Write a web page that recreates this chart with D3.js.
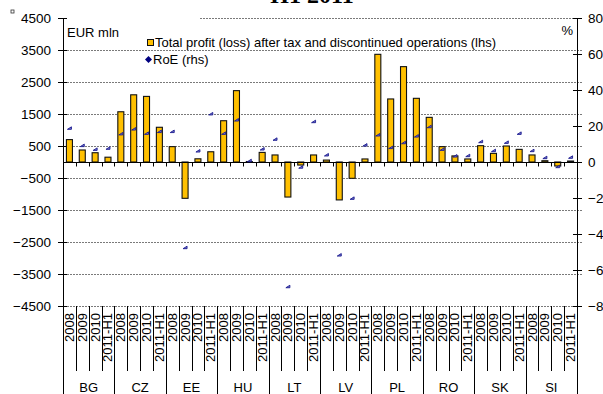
<!DOCTYPE html>
<html>
<head>
<meta charset="utf-8">
<script src="https://cdn.jsdelivr.net/npm/d3@7"></script>
<style>
  html, body { margin: 0; padding: 0; background: #fff; }
  svg { display: block; }
  text { font-family: "Liberation Sans", Arial, sans-serif; fill: #000; }
</style>
</head>
<body>
<svg id="chart" width="603" height="394"></svg>
<script>
// Country groups and reporting periods on the category axis
const countries = ["BG", "CZ", "EE", "HU", "LT", "LV", "PL", "RO", "SK", "SI"];
const periods = ["2008", "2009", "2010", "2011-H1"];

// Total profit (loss) after tax and discontinued operations, EUR mln (lhs)
const profit = [
  700, 375, 290, 150,
  1570, 2100, 2050, 1085,
  480, -1135, 100, 320,
  1290, 2230, 15, 300,
  220, -1095, -95, 220,
  60, -1185, -510, 95,
  3365, 1970, 2980, 1990,
  1395, 480, 190, 95,
  510, 270, 500, 395,
  220, 40, -125, 30
];

// Return on equity, % (rhs)
const roe = [
  18.7, 9.1, 7.0, 7.6,
  15.6, 18.3, 15.9, 16.9,
  16.9, -47.6, 6.1, 26.7,
  15.9, 23.3, 0.7, 7.2,
  12.6, -69.3, -2.9, 22.4,
  3.9, -51.7, -20.2, 9.4,
  15.0, 8.0, 10.7, 14.4,
  19.6, 7.0, 3.3, 3.5,
  11.3, 6.3, 10.9, 15.9,
  6.3, 2.4, -2.6, 2.6
];

const leftTicks = [4500, 3500, 2500, 1500, 500, -500, -1500, -2500, -3500, -4500];
const rightTicks = [80, 60, 40, 20, 0, -20, -40, -60, -80];

const rows = [];
countries.forEach((c, gi) => periods.forEach((p, pi) => {
  const i = gi * periods.length + pi;
  rows.push({ key: c + " " + p, country: c, period: p, profit: profit[i], roe: roe[i] });
}));

const svg = d3.select("#chart");
const W = 603, H = 394;
const plotL = 63, plotR = 577, plotT = 18, plotB = 306;

const x = d3.scaleBand().domain(rows.map(d => d.key)).range([plotL, plotR]).padding(0);
const yL = d3.scaleLinear().domain([-4500, 4500]).range([plotB, plotT]);
const yR = d3.scaleLinear().domain([-80, 80]).range([plotB, plotT]);

// Title (sits mostly above the visible area)
svg.append("text")
  .attr("x", 312).attr("y", 3)
  .attr("text-anchor", "middle")
  .style("font-family", "'Liberation Serif', 'Times New Roman', serif")
  .style("font-weight", "bold")
  .style("font-size", "24px")
  .text("H1 2011");

// Small marker in the top-left corner
svg.append("rect").attr("x", 11).attr("y", 10).attr("width", 3).attr("height", 3)
  .attr("fill", "#fff").attr("stroke", "#333").attr("stroke-width", 0.8);

// Horizontal gridlines
const grid = svg.append("g");
grid.selectAll("line").data(leftTicks).join("line")
  .attr("x1", d => d === 4500 ? 200 : plotL - 5)
  .attr("x2", plotR + 5)
  .attr("y1", d => Math.round(yL(d)) + 0.5)
  .attr("y2", d => Math.round(yL(d)) + 0.5)
  .attr("stroke", "#7a7a7a")
  .attr("stroke-width", 1)
  .attr("stroke-dasharray", "2,1");

// Left axis labels
const axL = svg.append("g").attr("transform", `translate(${plotL},0)`)
  .call(d3.axisLeft(yL).tickValues(leftTicks).tickSize(0).tickPadding(12).tickFormat(d3.format("d")));
axL.select(".domain").remove();
axL.selectAll("text").style("font-size", "13.5px").style("font-family", "'Liberation Sans', Arial, sans-serif");

// Right axis labels
const axR = svg.append("g").attr("transform", `translate(${plotR},0)`)
  .call(d3.axisRight(yR).tickValues(rightTicks).tickSize(0).tickPadding(11).tickFormat(d3.format("d")));
axR.select(".domain").remove();
axR.selectAll("text").style("font-size", "13.5px").style("font-family", "'Liberation Sans', Arial, sans-serif");

// Right-axis tick marks
svg.append("g").selectAll("line").data(rightTicks).join("line")
  .attr("x1", plotR - 4).attr("x2", plotR + 5)
  .attr("y1", d => Math.round(yR(d)) + 0.5).attr("y2", d => Math.round(yR(d)) + 0.5)
  .attr("stroke", "#000");
// Left-axis tick marks
svg.append("g").selectAll("line").data(leftTicks).join("line")
  .attr("x1", plotL - 5).attr("x2", plotL + 4)
  .attr("y1", d => Math.round(yL(d)) + 0.5).attr("y2", d => Math.round(yL(d)) + 0.5)
  .attr("stroke", "#000");

// Unit labels
svg.append("text").attr("x", 67).attr("y", 37).style("font-size", "13px").text("EUR mln");
svg.append("text").attr("x", 573).attr("y", 35).attr("text-anchor", "end").style("font-size", "13px").text("%");

// Bars
const bw = 6;
svg.append("g").selectAll("rect").data(rows).join("rect")
  .attr("x", d => x(d.key) + x.bandwidth() / 2 - bw / 2)
  .attr("width", bw)
  .attr("y", d => yL(Math.max(0, d.profit)))
  .attr("height", d => Math.abs(yL(d.profit) - yL(0)))
  .attr("fill", "#FFC000")
  .attr("stroke", "#111")
  .attr("stroke-width", 1.1);

// Zero line of the category axis with boundary ticks
const y0 = Math.round(yL(0)) + 0.5;
svg.append("line").attr("x1", plotL).attr("x2", plotR).attr("y1", y0).attr("y2", y0)
  .attr("stroke", "#000").attr("stroke-width", 1);
svg.append("g").selectAll("line").data(rows.slice(1)).join("line")
  .attr("x1", d => Math.round(x(d.key)) + 0.5).attr("x2", d => Math.round(x(d.key)) + 0.5)
  .attr("y1", y0).attr("y2", y0 + 4)
  .attr("stroke", "#000");

// RoE markers (small wedge glyphs)
svg.append("g").selectAll("path").data(rows).join("path")
  .attr("transform", d => `translate(${x(d.key) + x.bandwidth() / 2},${yR(d.roe)})`)
  .attr("d", "M-2,1 L2,1 L2,-1.5 Z")
  .attr("fill", "#7a7ac8")
  .attr("stroke", "#1a1a90")
  .attr("stroke-width", 0.9)
  .attr("stroke-linejoin", "round");

// Vertical axis lines
svg.append("line").attr("x1", plotL + 0.5).attr("x2", plotL + 0.5).attr("y1", plotT).attr("y2", H)
  .attr("stroke", "#000");
svg.append("line").attr("x1", plotR + 0.5).attr("x2", plotR + 0.5).attr("y1", plotT).attr("y2", H)
  .attr("stroke", "#000");

// Category separators below the plot
svg.append("g").selectAll("line").data(rows.slice(1)).join("line")
  .attr("x1", d => Math.round(x(d.key)) + 0.5).attr("x2", d => Math.round(x(d.key)) + 0.5)
  .attr("y1", plotB)
  .attr("y2", d => d.period === periods[0] ? H : 371)
  .attr("stroke", "#000");

// Period labels (rotated)
svg.append("g").selectAll("text").data(rows).join("text")
  .attr("transform", d => `translate(${x(d.key) + x.bandwidth() / 2 + 4.5},${plotB + 7}) rotate(-90)`)
  .attr("text-anchor", "end")
  .style("font-size", "13px")
  .text(d => d.period);

// Country labels
svg.append("g").selectAll("text").data(countries).join("text")
  .attr("x", c => x(c + " " + periods[0]) + x.bandwidth() * periods.length / 2)
  .attr("y", 392)
  .attr("text-anchor", "middle")
  .style("font-size", "13px")
  .text(c => c);

// Legend
const lg = svg.append("g");
lg.append("rect").attr("x", 147.5).attr("y", 39.5).attr("width", 6).attr("height", 6)
  .attr("fill", "#FFC000").attr("stroke", "#111");
lg.append("text").attr("x", 155).attr("y", 47).style("font-size", "13px")
  .text("Total profit (loss) after tax and discontinued operations (lhs)");
lg.append("path").attr("transform", "translate(148.5,59.5)")
  .attr("d", "M0,-3.5 L3.5,0 L0,3.5 L-3.5,0 Z").attr("fill", "#000080");
lg.append("text").attr("x", 153).attr("y", 64).style("font-size", "13px").text("RoE (rhs)");
</script>
</body>
</html>
